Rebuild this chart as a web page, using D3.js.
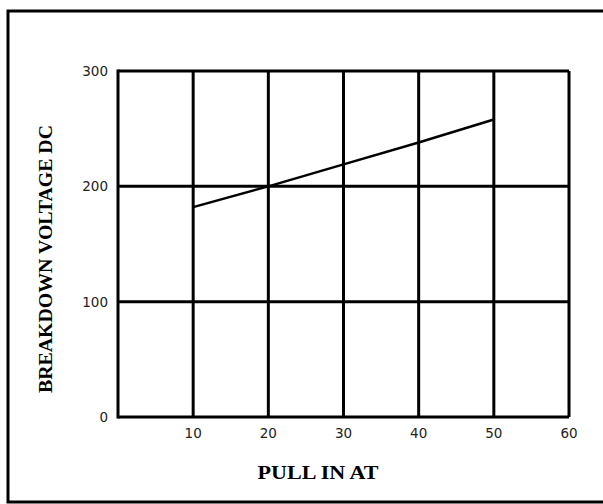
<!DOCTYPE html>
<html>
<head>
<meta charset="utf-8">
<script src="https://cdn.jsdelivr.net/npm/d3@7"></script>
<style>
  html, body { margin: 0; padding: 0; background: #fff; }
  svg { display: block; }
</style>
</head>
<body>
<svg id="chart" width="603" height="504"></svg>
<script>
// Data
const pullInAT = [10, 20, 30, 40, 50];
const breakdownVoltage = [182, 200, 219, 238, 258];
const xTicks = [10, 20, 30, 40, 50, 60];
const yTicks = [0, 100, 200, 300];
const xTitle = "PULL IN AT";
const yTitle = "BREAKDOWN VOLTAGE DC";

const svg = d3.select("#chart");

// outer frame
svg.append("rect")
  .attr("x", 8).attr("y", 11)
  .attr("width", 603).attr("height", 491)
  .attr("fill", "none").attr("stroke", "#000").attr("stroke-width", 3);

const x = d3.scaleLinear().domain([0, 60]).range([118, 569]);
const y = d3.scaleLinear().domain([0, 300]).range([417, 71]);

const g = svg.append("g");

// vertical grid lines
g.selectAll("line.vg").data(xTicks).join("line")
  .attr("x1", d => x(d)).attr("x2", d => x(d))
  .attr("y1", y(300)).attr("y2", y(0))
  .attr("stroke", "#000").attr("stroke-width", 3);

// horizontal grid lines
g.selectAll("line.hg").data(yTicks).join("line")
  .attr("x1", x(0)).attr("x2", x(60))
  .attr("y1", d => y(d)).attr("y2", d => y(d))
  .attr("stroke", "#000").attr("stroke-width", 3);

// left border
g.append("line")
  .attr("x1", x(0)).attr("x2", x(0))
  .attr("y1", y(300) - 1.5).attr("y2", y(0) + 1.5)
  .attr("stroke", "#000").attr("stroke-width", 3);

// y tick labels
g.selectAll("text.yt").data(yTicks).join("text")
  .attr("x", 108).attr("y", d => y(d) + 5)
  .attr("text-anchor", "end")
  .attr("font-family", "DejaVu Sans, sans-serif")
  .attr("font-size", 13.5)
  .attr("fill", "#222")
  .text(d => d);

// x tick labels
g.selectAll("text.xt").data(xTicks).join("text")
  .attr("x", d => x(d)).attr("y", 438)
  .attr("text-anchor", "middle")
  .attr("font-family", "DejaVu Sans, sans-serif")
  .attr("font-size", 13.5)
  .attr("fill", "#222")
  .text(d => d);

// data line
const line = d3.line().x((d, i) => x(pullInAT[i])).y(d => y(d));
g.append("path")
  .datum(breakdownVoltage)
  .attr("d", line)
  .attr("fill", "none").attr("stroke", "#000").attr("stroke-width", 2.5);

// axis titles
svg.append("text")
  .attr("x", 318).attr("y", 479)
  .attr("text-anchor", "middle")
  .attr("font-family", "Liberation Serif, Times New Roman, serif")
  .attr("font-size", 19)
  .attr("font-weight", "bold")
  .attr("textLength", 121)
  .attr("lengthAdjust", "spacingAndGlyphs")
  .text(xTitle);

svg.append("text")
  .attr("transform", "translate(52,259) rotate(-90)")
  .attr("text-anchor", "middle")
  .attr("font-family", "Liberation Serif, Times New Roman, serif")
  .attr("font-size", 19)
  .attr("font-weight", "bold")
  .attr("textLength", 268)
  .attr("lengthAdjust", "spacingAndGlyphs")
  .text(yTitle);
</script>
</body>
</html>
